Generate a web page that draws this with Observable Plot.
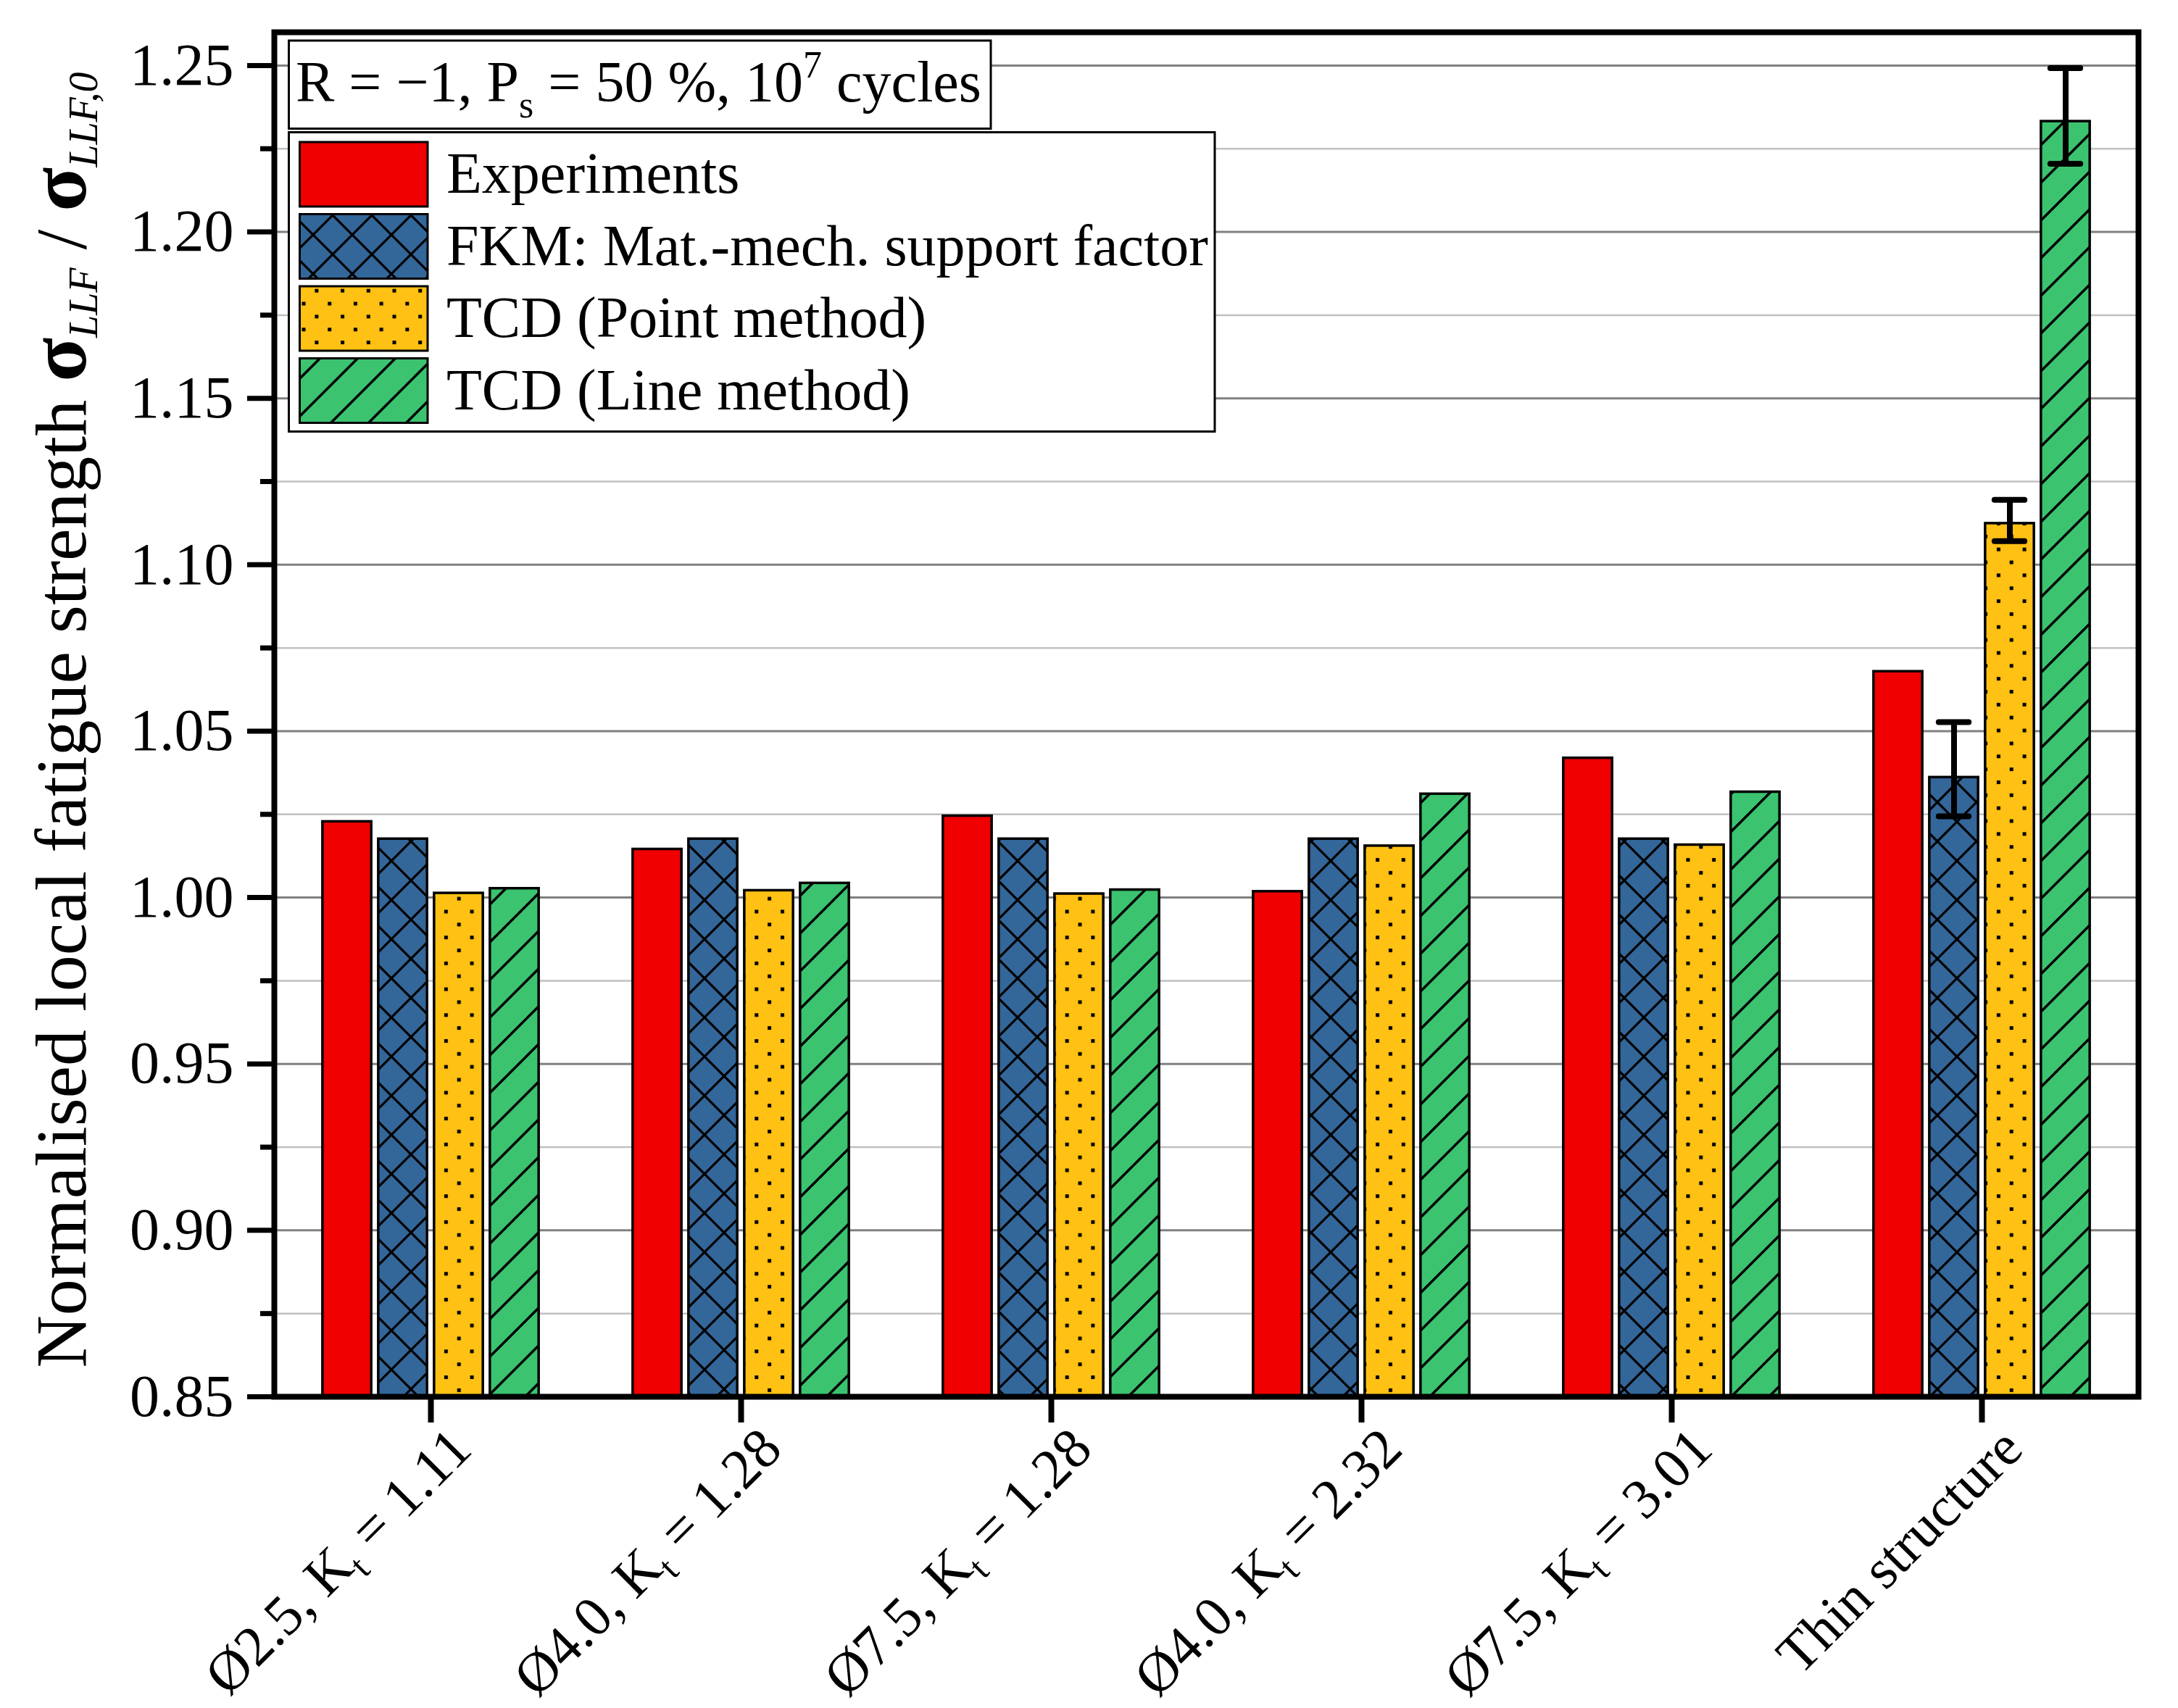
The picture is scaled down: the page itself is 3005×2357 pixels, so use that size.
<!DOCTYPE html>
<html><head><meta charset="utf-8">
<script src="https://cdn.jsdelivr.net/npm/d3@7"></script>
<script src="https://cdn.jsdelivr.net/npm/@observablehq/plot@0.6"></script>
<style>body{margin:0;background:#fff} svg{display:block}</style>
</head><body><div id="chart"></div>
<script>
// ---- data ----
const categories = ["Ø2.5, Kt = 1.11", "Ø4.0, Kt = 1.28", "Ø7.5, Kt = 1.28", "Ø4.0, Kt = 2.32", "Ø7.5, Kt = 3.01", "Thin structure"];
const seriesNames = ["Experiments", "FKM: Mat.-mech. support factor", "TCD (Point method)", "TCD (Line method)"];
const experiments = [1.0228, 1.0145, 1.0245, 1.0018, 1.0419, 1.0679];
const fkm         = [1.0176, 1.0176, 1.0176, 1.0176, 1.0176, 1.0361];
const pointMethod = [1.0013, 1.0021, 1.0011, 1.0155, 1.0158, 1.1124];
const lineMethod  = [1.0027, 1.0043, 1.0023, 1.0311, 1.0317, 1.2332];
// error bars (Thin structure only), per series index
const errCategory = "Thin structure";
const errSeries = [1, 2, 3];
const errLow  = [1.0244, 1.1071, 1.2205];
const errHigh = [1.0527, 1.1195, 1.2492];
const yTicks = [0.85, 0.90, 0.95, 1.00, 1.05, 1.10, 1.15, 1.20, 1.25];
const yMinorTicks = [0.875, 0.925, 0.975, 1.025, 1.075, 1.125, 1.175, 1.225];
const yGrid = [0.90, 0.95, 1.00, 1.05, 1.10, 1.15, 1.20, 1.25];
const yDomain = [0.85, 1.26];

// ---- layout / style ----
const W = 3005, H = 2357, mL = 378, mR = 55, mT = 44, mB = 430;
const bw = (W - mL - mR) / categories.length;
const pitch = 77, barW = 68;
const colors = ["#f00000", "#336699", "#ffc114", "#3bc370"];
const fills = [colors[0], "url(#hatch-cross)", "url(#hatch-dots)", "url(#hatch-diag)"];
const seriesValues = [experiments, fkm, pointMethod, lineMethod];

const barMarks = seriesValues.map((vals, i) => {
  const c = bw / 2 + (i - 1.5) * pitch;
  return Plot.barY(categories.map((cat, j) => ({category: cat, value: vals[j]})), {
    x: "category", y1: yDomain[0], y2: "value",
    fill: fills[i], stroke: "black", strokeWidth: 3.5,
    insetLeft: c - barW / 2, insetRight: bw - c - barW / 2
  });
});

const errMarks = errSeries.flatMap((s, k) => {
  const c = bw / 2 + (s - 1.5) * pitch;
  const d = [{category: errCategory, lo: errLow[k], hi: errHigh[k]}];
  return [
    Plot.ruleX(d, {x: "category", y1: "lo", y2: "hi", dx: (s - 1.5) * pitch, stroke: "black", strokeWidth: 8}),
    Plot.tickY(d, {x: "category", y: "lo", insetLeft: c - 21, insetRight: bw - c - 21, stroke: "black", strokeWidth: 8, strokeLinecap: "round"}),
    Plot.tickY(d, {x: "category", y: "hi", insetLeft: c - 21, insetRight: bw - c - 21, stroke: "black", strokeWidth: 8, strokeLinecap: "round"})
  ];
});

const svg = Plot.plot({
  width: W, height: H,
  marginLeft: mL, marginRight: mR, marginTop: mT, marginBottom: mB,
  style: {fontFamily: "'Liberation Serif', 'Times New Roman', serif", fontSize: "80px", color: "black", background: "white"},
  x: {type: "band", domain: categories, padding: 0, label: null},
  y: {domain: yDomain, label: null},
  marks: [
    Plot.ruleY(yMinorTicks, {y: d => d, stroke: "#c0c0c0", strokeWidth: 2.5}),
    Plot.ruleY(yGrid, {y: d => d, stroke: "#808080", strokeWidth: 3}),
    ...barMarks,
    ...errMarks,
    Plot.axisY(yMinorTicks, {tickSize: 19, strokeWidth: 7, tickFormat: () => "", label: null}),
    Plot.axisY(yTicks, {tickSize: 37, tickPadding: 19, strokeWidth: 7, tickFormat: d3.format(".2f"), fontSize: 82, label: null}),
    Plot.axisX({tickSize: 36, strokeWidth: 8, tickFormat: () => "", label: null}),
    Plot.axisX({tickSize: 0, tickRotate: -45, tickPadding: 58, dx: 42, fontSize: 78, label: null}),
    Plot.frame({stroke: "black", strokeWidth: 8})
  ]
});

const root = d3.select(svg);
// patterns
root.insert("defs", ":first-child").html(`
<pattern id="hatch-cross" patternUnits="userSpaceOnUse" width="54" height="54">
  <rect width="54" height="54" fill="${colors[1]}"/>
  <path d="M-10,-10L64,64M-10,64L64,-10" stroke="black" stroke-width="3.2" fill="none"/>
</pattern>
<pattern id="hatch-dots" patternUnits="userSpaceOnUse" width="35.7" height="35.7">
  <rect width="35.7" height="35.7" fill="${colors[2]}"/>
  <rect x="6" y="6" width="5" height="5" fill="black"/>
  <rect x="23.85" y="23.85" width="5" height="5" fill="black"/>
</pattern>
<pattern id="hatch-diag" patternUnits="userSpaceOnUse" width="52" height="52">
  <rect width="52" height="52" fill="${colors[3]}"/>
  <path d="M-13,13L13,-13M-13,65L65,-13M39,65L65,39" stroke="black" stroke-width="3.5" fill="none"/>
</pattern>`);

// subscript t in K_t tick labels
root.selectAll("text").each(function() {
  const t = this.textContent;
  if (this.childElementCount === 0 && t.includes("Kt")) {
    const [a, b] = t.split("Kt");
    const sel = d3.select(this);
    sel.text(null);
    sel.append("tspan").text(a + "K");
    sel.append("tspan").attr("font-size", "0.65em").attr("dy", "17").text("t");
    sel.append("tspan").attr("dy", "-17").text(b);
  }
});

// y-axis title
const yt = root.append("text")
  .attr("transform", `translate(118,${(mT + H - mB) / 2 + 8}) rotate(-90)`)
  .attr("text-anchor", "middle")
  .attr("fill", "black")
  .style("font-size", "100px");
yt.append("tspan").text("Normalised local fatigue strength ");
yt.append("tspan").attr("font-weight", "bold").attr("font-size", "1.12em").text("σ");
yt.append("tspan").attr("font-style", "italic").attr("font-size", "0.56em").attr("dy", "16").text("LLF");
yt.append("tspan").attr("dy", "-16").text(" / ");
yt.append("tspan").attr("font-weight", "bold").attr("font-size", "1.12em").text("σ");
yt.append("tspan").attr("font-style", "italic").attr("font-size", "0.56em").attr("dy", "16").text("LLF,0");

// legend
const lg = root.append("g").style("font-size", "80px").attr("text-anchor", "start");
lg.append("rect").attr("x", 398.5).attr("y", 56).attr("width", 968.5).attr("height", 121.5)
  .attr("fill", "white").attr("stroke", "black").attr("stroke-width", 3);
const tt = lg.append("text").attr("x", 408).attr("y", 140).attr("fill", "black").attr("text-anchor", "start");
tt.append("tspan").text("R = \u22121, P");
tt.append("tspan").attr("font-size", "0.65em").attr("dy", "22").text("s");
tt.append("tspan").attr("dy", "-22").text(" = 50 %, 10");
tt.append("tspan").attr("font-size", "0.65em").attr("dy", "-33").text("7");
tt.append("tspan").attr("dy", "33").text(" cycles");

lg.append("rect").attr("x", 398.5).attr("y", 182.5).attr("width", 1277.5).attr("height", 413)
  .attr("fill", "white").attr("stroke", "black").attr("stroke-width", 3);
seriesNames.forEach((name, i) => {
  lg.append("rect").attr("x", 413.5).attr("y", 196 + i * 99.5).attr("width", 176.5).attr("height", 89)
    .attr("fill", fills[i]).attr("stroke", "black").attr("stroke-width", 3);
  lg.append("text").attr("x", 616).attr("y", 266 + i * 99.5).attr("fill", "black").attr("text-anchor", "start").text(name);
});

document.getElementById("chart").appendChild(svg);
</script>
</body></html>
